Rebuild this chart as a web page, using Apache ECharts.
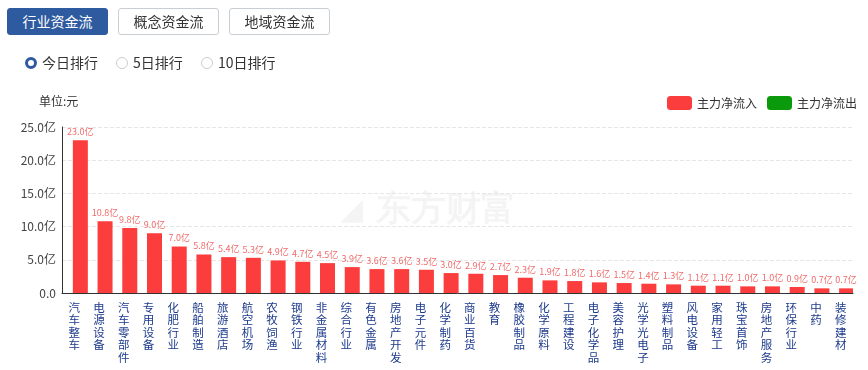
<!DOCTYPE html>
<html><head><meta charset="utf-8">
<script src="https://cdn.jsdelivr.net/npm/echarts@6/dist/echarts.min.js"></script>
<style>
html,body{margin:0;padding:0;background:#fff;font-family:"Microsoft YaHei","Noto Sans CJK SC",sans-serif;}
#wrap{position:relative;width:868px;height:370px;overflow:hidden;}
#chart{position:absolute;left:0;top:0;width:868px;height:370px;}
.btn{position:absolute;top:8px;height:27px;width:101px;box-sizing:border-box;border:1px solid #c9cdd4;border-radius:3px;font-size:14px;line-height:25px;text-align:center;color:#333;background:#fff;}
.btn.on{background:#2e5b9f;border-color:#2e5b9f;color:#fff;}
.radio{position:absolute;top:53px;font-size:14px;color:#333;line-height:18px;}
.radio i{display:inline-block;width:12px;height:12px;border:1px solid #ccc;border-radius:50%;box-sizing:border-box;vertical-align:-1px;margin-right:5px;}
.radio.on i{border:3px solid #2e5b9f;}
</style></head>
<body><div id="wrap">
<div id="chart"></div>
<div class="btn on" style="left:7px">行业资金流</div>
<div class="btn" style="left:118px">概念资金流</div>
<div class="btn" style="left:229px">地域资金流</div>
<div class="radio on" style="left:25px"><i></i>今日排行</div>
<div class="radio" style="left:116px"><i></i>5日排行</div>
<div class="radio" style="left:201px"><i></i>10日排行</div>
</div>
<script>
const categories = ['汽车整车','电源设备','汽车零部件','专用设备','化肥行业','船舶制造','旅游酒店','航空机场','农牧饲渔','钢铁行业','非金属材料','综合行业','有色金属','房地产开发','电子元件','化学制药','商业百货','教育','橡胶制品','化学原料','工程建设','电子化学品','美容护理','光学光电子','塑料制品','风电设备','家用轻工','珠宝首饰','房地产服务','环保行业','中药','装修建材'];
const inflowValues = [23.0,10.8,9.8,9.0,7.0,5.8,5.4,5.3,4.9,4.7,4.5,3.9,3.6,3.6,3.5,3.0,2.9,2.7,2.3,1.9,1.8,1.6,1.5,1.4,1.3,1.1,1.1,1.0,1.0,0.9,0.7,0.7];
const yTicks = [0,5,10,15,20,25];
const legendNames = ['主力净流入','主力净流出'];

const chart = echarts.init(document.getElementById('chart'));
chart.setOption({
  animation:false,
  textStyle:{fontFamily:'"Microsoft YaHei","Noto Sans CJK SC",sans-serif'},
  title:{text:'单位:元',left:34,top:90,textStyle:{fontSize:12,fontWeight:'normal',color:'#333'}},
  legend:{data:legendNames,right:6,top:91,itemWidth:25,itemHeight:14,itemGap:10,textStyle:{fontSize:12,color:'#333'}},
  graphic:[
    {type:'text',left:340,top:196,z:0,style:{text:'◢',fontSize:30,fill:'rgba(0,0,0,0.045)'}},
    {type:'text',left:376,top:193,z:0,style:{text:'东方财富',fontSize:35,fontWeight:'bold',fill:'rgba(0,0,0,0.045)'}}
  ],
  grid:{left:62,right:15,top:127,bottom:77},
  xAxis:{type:'category',data:categories,
    axisLine:{lineStyle:{color:'#333'}},axisTick:{show:false},
    axisLabel:{interval:0,color:'#1c3a8c',fontSize:11.5,lineHeight:12.5,margin:8,
      formatter:v=>v.split('').join('\n')}},
  yAxis:{type:'value',min:yTicks[0],max:yTicks[yTicks.length-1],interval:5,
    axisLine:{show:true,lineStyle:{color:'#333'}},axisTick:{show:false},
    splitLine:{lineStyle:{type:'dashed',color:'#e6e6e6'}},
    axisLabel:{color:'#444',fontSize:12,margin:6,formatter:v=>v===0?'0.0':v.toFixed(1)+'亿'}},
  series:[
    {name:legendNames[0],type:'bar',data:inflowValues,barWidth:15,itemStyle:{color:'#fb3d3d'},
      label:{show:true,position:'top',distance:4,fontSize:9,color:'#ef6b6b',formatter:p=>p.value.toFixed(1)+'亿'}},
    {name:legendNames[1],type:'bar',data:[],itemStyle:{color:'#0b9a0b'},barGap:'-100%'}
  ]
});
</script></body></html>
